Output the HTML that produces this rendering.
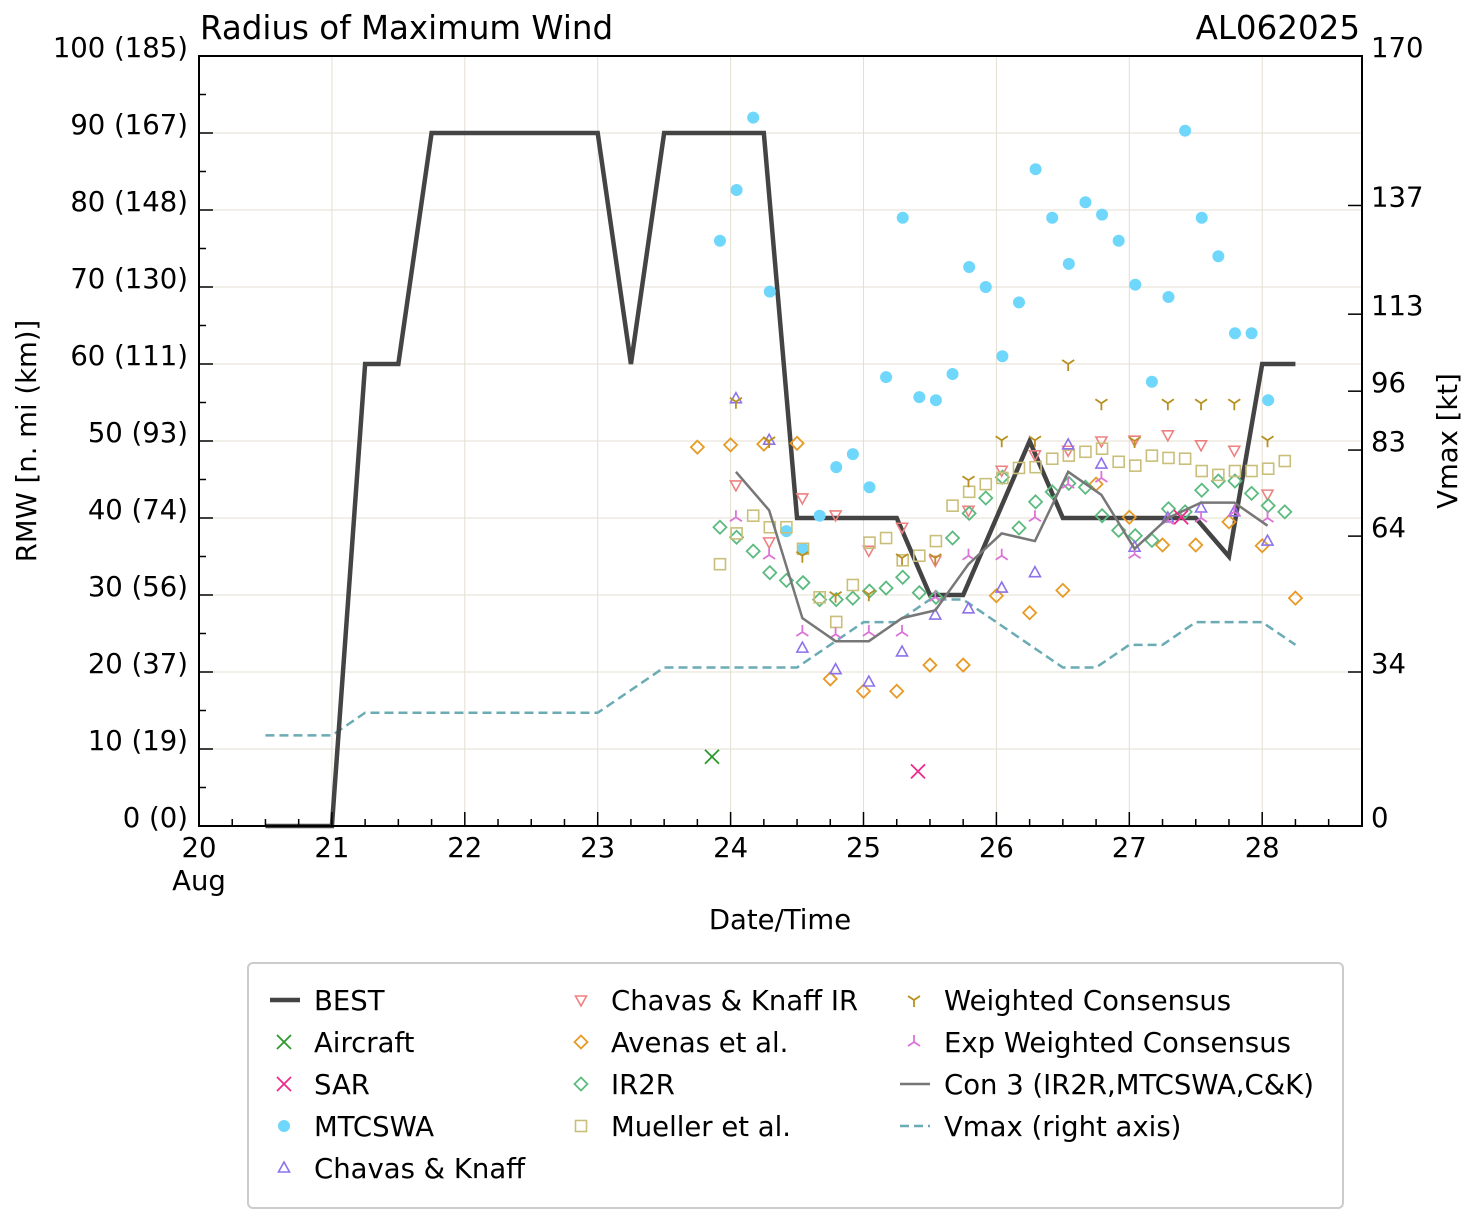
<!DOCTYPE html>
<html><head><meta charset="utf-8"><style>
body{margin:0;background:#fff;}
svg text{font-family:"DejaVu Sans","Liberation Sans",sans-serif;fill:#000;}
</style></head><body>
<svg id="chart" width="1477" height="1222" viewBox="0 0 1477 1222">
<rect width="1477" height="1222" fill="#fff"/>
<g id="grid"></g>
<g id="series"></g>
<g id="axes"></g>
<text x="200" y="39" font-size="32.5">Radius of Maximum Wind</text>
<text x="1360" y="39" font-size="32.5" text-anchor="end">AL062025</text>
<text x="780" y="929" font-size="27.5" text-anchor="middle">Date/Time</text>
<text transform="translate(36,441) rotate(-90)" font-size="27.5" text-anchor="middle">RMW [n. mi (km)]</text>
<text transform="translate(1457,441) rotate(-90)" font-size="27.5" text-anchor="middle">Vmax [kt]</text>
<g id="legend"></g>
</svg>
<script>
const bestT=[20.5,21,21.25,21.5,21.75,23,23.25,23.5,24.25,24.5,25.25,25.5,25.75,26.25,26.5,27.5,27.75,28,28.25];
const bestV=[0,0,60,60,90,90,60,90,90,40,40,30,30,50,40,40,35,60,60];
const vmaxT=[20.5,21,21.25,23,23.5,24.5,24.75,25,25.25,25.5,25.75,26,26.25,26.5,26.75,27,27.25,27.5,27.75,28,28.25];
const vmaxV=[20,20,25,25,35,35,40,45,45,50,50,45,40,35,35,40,40,45,45,45,40];
const con3T=[24.04,24.29,24.54,24.79,25.04,25.29,25.54,25.79,26.04,26.29,26.54,26.79,27.04,27.29,27.54,27.79,28.04];
const con3V=[46,41,27,24,24,27,28,34,38,37,46,43,36,40,42,42,39];
const mtcStart=23.92;
const mtcV=[76,82.6,92,69.4,38.3,36,40.3,46.6,48.3,44,58.3,79,55.7,55.3,58.7,72.6,70,61,68,85.3,79,73,81,79.4,76,70.3,57.7,68.7,90.3,79,74,64,64,55.3];
const avenasStart=23.75;
const avenasV=[49.2,49.5,49.6,49.7,19.1,17.5,17.5,20.9,20.9,29.9,27.7,30.6,44.4,40.1,36.5,36.5,39.5,36.4,29.6];
const ir2rStart=23.92;
const ir2rV=[38.8,37.5,35.7,32.9,31.9,31.6,29.4,29.4,29.6,30.5,30.9,32.3,30.3,29.7,37.4,40.6,42.6,45.3,38.7,42.1,43.4,44.5,44,40.3,38.4,37.7,37.1,41.2,40.8,43.6,44.8,44.8,43.2,41.6,40.8];
const muellerStart=23.92;
const muellerV=[34,38,40.3,38.8,38.8,36,29.7,26.5,31.3,36.8,37.4,34.5,35.1,37,41.6,43.4,44.4,45.2,46.5,46.6,47.7,48.1,48.6,49,47.3,46.8,48.1,47.8,47.7,46.1,45.6,46.1,46.1,46.4,47.4];
const sixStart=24.04;
const ckirV=[44.3,36.9,42.6,40.4,35.8,38.8,34.5,41,46.2,48.2,48.8,50,50.1,50.8,49.5,48.8,43.1];
const ckV=[55.5,50.1,23.1,20.3,18.7,22.6,27.4,28.2,30.9,32.9,49.5,47,36.2,40,41.3,40.8,37];
const wcV=[55.1,50,35.1,29.9,30.1,34.8,34.8,44.9,50.1,50.1,60,54.9,50,54.9,54.9,54.9,50.1];
const ewcV=[40.1,35.2,25.2,24.9,25.2,25.2,29.7,35.1,35.1,40.1,44.4,45.2,35.3,39.7,40,40.8,40];
const aircraftT=[23.86], aircraftV=[9];
const sarT=[25.41,27.39], sarV=[7.1,40.1];
const yTicks=[0,10,20,30,40,50,60,70,80,90,100];
const yTickLabels=["0 (0)","10 (19)","20 (37)","30 (56)","40 (74)","50 (93)","60 (111)","70 (130)","80 (148)","90 (167)","100 (185)"];
const rTicks=[0,34,64,83,96,113,137,170];
const xTicks=[20,21,22,23,24,25,26,27,28];

const L=199,R=1362,T=56,B=826;
const X=d=>L+(d-20)*132.9;
const Y=v=>B-(v/100)*(B-T);
const YR=k=>B-(k/170)*(B-T);
const NS="http://www.w3.org/2000/svg";
function mk(tag,attrs,parent){const e=document.createElementNS(NS,tag);for(const k in attrs)e.setAttribute(k,attrs[k]);parent.appendChild(e);return e;}
const grid=document.getElementById('grid'),ser=document.getElementById('series'),ax=document.getElementById('axes'),leg=document.getElementById('legend');
yTicks.forEach(v=>{const l=mk('line',{x1:L,x2:R,y1:Y(v),y2:Y(v),stroke:'#e3dfd2','stroke-width':1},grid);});
xTicks.forEach(d=>{const l=mk('line',{x1:X(d),x2:X(d),y1:T,y2:B,stroke:'#e3dfd2','stroke-width':1},grid);});
const fr=mk('rect',{x:L,y:T,width:R-L,height:B-T,fill:'none',stroke:'#000','stroke-width':2},ax);

for(let v=0;v<=100;v+=5){const maj=v%10===0;mk('line',{x1:L,x2:L+(maj?14:7),y1:Y(v),y2:Y(v),stroke:'#000','stroke-width':1.5},ax);}
yTicks.forEach((v,i)=>{const t=mk('text',{x:188,y:Y(v)+1,'font-size':27.5,'text-anchor':'end'},ax);t.textContent=yTickLabels[i];});
rTicks.forEach(k=>{mk('line',{x1:R-14,x2:R,y1:YR(k),y2:YR(k),stroke:'#000','stroke-width':1.5},ax);const t=mk('text',{x:1371,y:YR(k)+1,'font-size':27.5},ax);t.textContent=k;});
for(let d=20;d<=28.75;d+=0.25){const maj=Math.abs(d-Math.round(d))<1e-6;mk('line',{x1:X(d),x2:X(d),y1:B,y2:B-(maj?14:7),stroke:'#000','stroke-width':1.5},ax);}
xTicks.forEach(d=>{const t=mk('text',{x:X(d),y:857,'font-size':27.5,'text-anchor':'middle'},ax);t.textContent=d;});
{const t=mk('text',{x:X(20),y:890,'font-size':27.5,'text-anchor':'middle'},ax);t.textContent='Aug';}

function poly(ts,vs,yf,attrs,name){const p=mk('polyline',Object.assign({points:ts.map((t,i)=>X(t)+','+yf(vs[i])).join(' '),fill:'none'},attrs),ser);}
function marker(type,x,y,c,g){
 if(type==='circle')return mk('circle',{cx:x,cy:y,r:6,fill:c},g);
 if(type==='up')return mk('path',{d:`M${x},${y-6}L${x+5.5},${y+4}L${x-5.5},${y+4}Z`,fill:'none',stroke:c,'stroke-width':1.6},g);
 if(type==='down')return mk('path',{d:`M${x},${y+6}L${x+5.5},${y-4}L${x-5.5},${y-4}Z`,fill:'none',stroke:c,'stroke-width':1.6},g);
 if(type==='diamond')return mk('path',{d:`M${x},${y-6.5}L${x+6.5},${y}L${x},${y+6.5}L${x-6.5},${y}Z`,fill:'none',stroke:c,'stroke-width':1.8},g);
 if(type==='square')return mk('rect',{x:x-5.5,y:y-5.5,width:11,height:11,fill:'none',stroke:c,'stroke-width':1.6},g);
 if(type==='x')return mk('path',{d:`M${x-7},${y-7}L${x+7},${y+7}M${x-7},${y+7}L${x+7},${y-7}`,stroke:c,'stroke-width':1.8},g);
 if(type==='tri_down')return mk('path',{d:`M${x},${y}L${x},${y+7}M${x},${y}L${x-6},${y-4}M${x},${y}L${x+6},${y-4}`,stroke:c,'stroke-width':1.8,fill:'none'},g);
 if(type==='tri_up')return mk('path',{d:`M${x},${y}L${x},${y-7}M${x},${y}L${x-6},${y+4}M${x},${y}L${x+6},${y+4}`,stroke:c,'stroke-width':1.8,fill:'none'},g);
}
function scatter(ts,vs,type,c,name){const g=mk('g',{},ser);ts.forEach((t,i)=>{const m=marker(type,X(t),Y(vs[i]),c,g);});}
const seq=(s,n,step)=>Array.from({length:n},(_,i)=>s+i*step);

poly(vmaxT,vmaxV,YR,{stroke:'#6aabb4','stroke-width':2.5,'stroke-dasharray':'9,5'},'vmax-line');
poly(bestT,bestV,Y,{stroke:'#444','stroke-width':4.5},'best-track-line');
scatter(seq(mtcStart,mtcV.length,0.125),mtcV,'circle','#6fd7fb','mtcswa');
scatter(seq(sixStart,ckirV.length,0.25),ckirV,'down','#ee8080','chavas-knaff-ir');
scatter(seq(avenasStart,avenasV.length,0.25),avenasV,'diamond','#e79a25','avenas');
scatter(seq(ir2rStart,ir2rV.length,0.125),ir2rV,'diamond','#5cba7f','ir2r');
scatter(seq(muellerStart,muellerV.length,0.125),muellerV,'square','#c9bf7a','mueller');
scatter(seq(sixStart,ckV.length,0.25),ckV,'up','#8d72ec','chavas-knaff');
scatter(seq(sixStart,wcV.length,0.25),wcV,'tri_down','#b8901f','weighted-consensus');
scatter(seq(sixStart,ewcV.length,0.25),ewcV,'tri_up','#dc73d6','exp-weighted-consensus');
poly(con3T,con3V,Y,{stroke:'#777','stroke-width':2.5},'con3-line');
scatter(aircraftT,aircraftV,'x','#2b9a2b','aircraft');
scatter(sarT,sarV,'x','#ef2a8c','sar');

const lb=mk('rect',{x:248,y:963,width:1095,height:245,rx:5,fill:'#fff',stroke:'#ccc','stroke-width':2},leg);

const items=[
 [270,1000,'line','#444','BEST'],[270,1042,'x','#2b9a2b','Aircraft'],[270,1084,'x','#ef2a8c','SAR'],[270,1126,'circle','#6fd7fb','MTCSWA'],[270,1168,'up','#8d72ec','Chavas & Knaff'],
 [567,1000,'down','#ee8080','Chavas & Knaff IR'],[567,1042,'diamond','#e79a25','Avenas et al.'],[567,1084,'diamond','#5cba7f','IR2R'],[567,1126,'square','#c9bf7a','Mueller et al.'],
 [900,1000,'tri_down','#b8901f','Weighted Consensus'],[900,1042,'tri_up','#dc73d6','Exp Weighted Consensus'],[900,1084,'thin','#777','Con 3 (IR2R,MTCSWA,C&K)'],[900,1126,'dash','#6aabb4','Vmax (right axis)']];
items.forEach(([x,y,type,c,label])=>{
 const g=mk('g',{},leg);
 if(type==='line')mk('line',{x1:x,x2:x+30,y1:y,y2:y,stroke:c,'stroke-width':4.5},g);
 else if(type==='thin')mk('line',{x1:x,x2:x+30,y1:y,y2:y,stroke:c,'stroke-width':2.5},g);
 else if(type==='dash')mk('line',{x1:x,x2:x+30,y1:y,y2:y,stroke:c,'stroke-width':2.5,'stroke-dasharray':'9,5'},g);
 else marker(type,x+14,y,c,g);
 const t=mk('text',{x:x+44,y:y+10,'font-size':27.5},g);t.textContent=label;
});
</script>
</body></html>
